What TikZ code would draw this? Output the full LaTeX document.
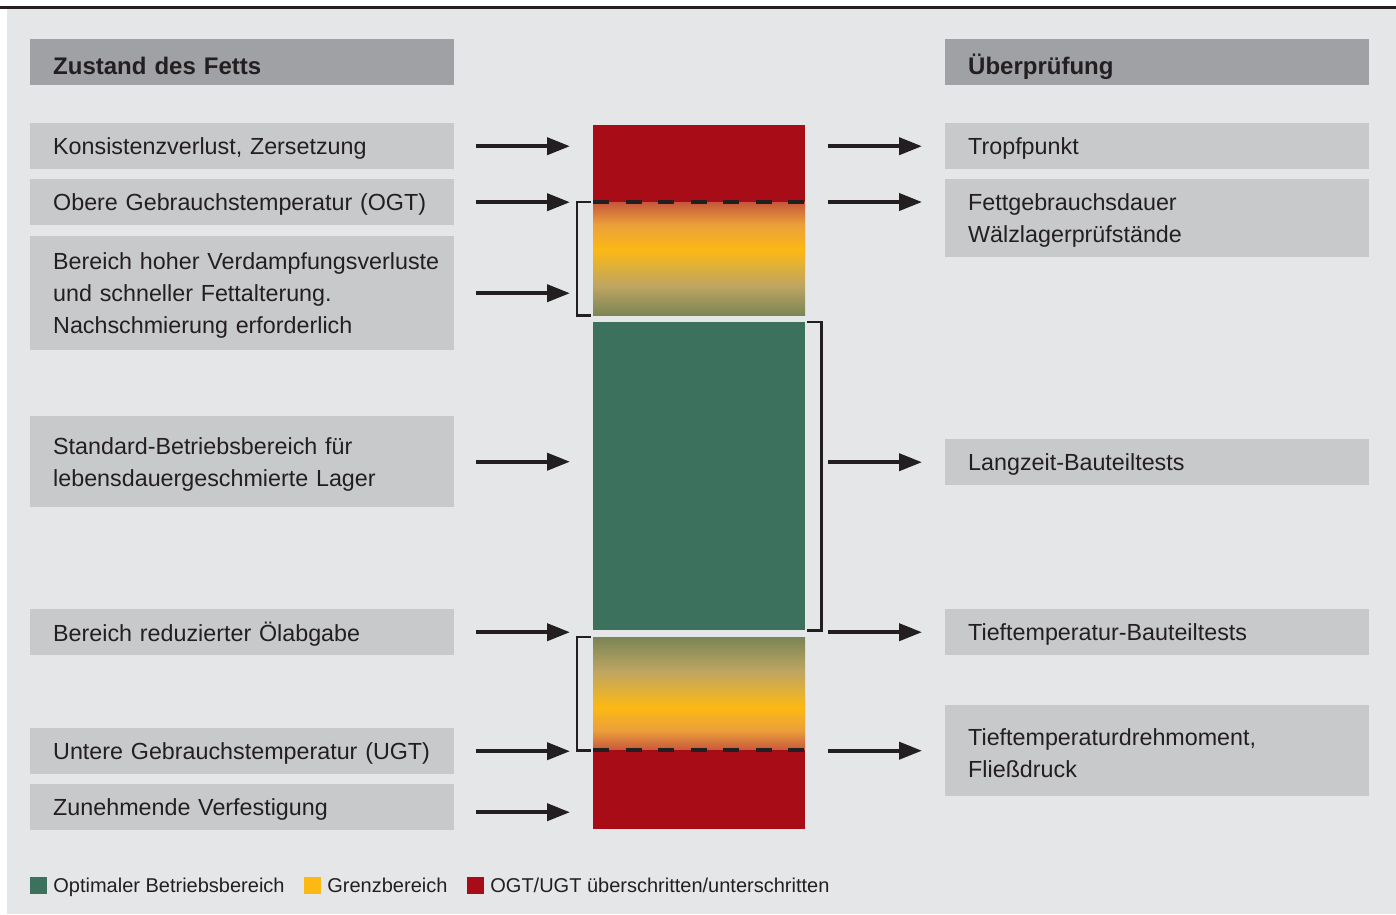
\documentclass[tikz,border=0pt]{standalone}
\usepackage{fontspec}
\setmainfont{Liberation Sans}
\usetikzlibrary{arrows.meta,positioning}
\definecolor{PanelGray}{RGB}{229,230,232}
\definecolor{HeadGray}{RGB}{160,161,165}
\definecolor{BoxGray}{RGB}{200,201,203}
\definecolor{InkBlack}{RGB}{35,31,32}
\definecolor{LimitRed}{RGB}{168,12,22}
\definecolor{OptGreen}{RGB}{60,113,93}
\definecolor{LimitAmber}{RGB}{252,185,20}
\definecolor{RustOrange}{RGB}{198,88,60}
\definecolor{WarmOrange}{RGB}{236,160,58}
\definecolor{TanOlive}{RGB}{190,165,98}
\definecolor{DullOlive}{RGB}{123,133,85}
% transition bands between the limit zones and the optimal zone
\pgfdeclareverticalshading{hotband}{100bp}{color(0bp)=(DullOlive); color(25bp)=(DullOlive);
  color(38bp)=(TanOlive); color(54bp)=(LimitAmber); color(65bp)=(WarmOrange);
  color(75bp)=(RustOrange); color(100bp)=(RustOrange)}
\pgfdeclareverticalshading{coldband}{100bp}{color(0bp)=(RustOrange); color(25bp)=(RustOrange);
  color(34bp)=(WarmOrange); color(44bp)=(LimitAmber); color(60bp)=(TanOlive);
  color(75bp)=(DullOlive); color(100bp)=(DullOlive)}
\tikzset{
  infobox/.style={fill=BoxGray,anchor=north west,text width=424pt,minimum height=46pt,
    inner xsep=0pt,inner ysep=0pt,align=left,text=InkBlack,
    execute at begin node={\leftskip=23pt},execute at end node={\par\kern-5pt},
    font=\fontsize{23.3}{32}\selectfont},
  headbox/.style={infobox,fill=HeadGray,execute at end node={},text height=24pt,text depth=0pt,
    font=\fontsize{24}{32}\selectfont\bfseries},
  band/.style={anchor=north west,minimum width=212pt,inner sep=0pt},
  arrow/.style={-{Triangle[length=23pt,width=17pt]},line width=4pt,InkBlack},
  bracket/.style={line width=2.5pt,InkBlack},
  limitline/.style={line width=4pt,dash pattern=on 16pt off 16.5pt,InkBlack},
  swatch/.style={minimum size=17pt,inner sep=0pt},
  legendtext/.style={inner sep=0pt,text depth=0pt,text=InkBlack,font=\fontsize{20}{24}\selectfont}
}

\begin{document}
\begin{tikzpicture}[x=1pt,y=-1pt]
  \useasboundingbox (0,0) rectangle (1396,914);
  \fill[PanelGray] (7,9) rectangle (1396,914);
  \draw[line width=2.5pt,InkBlack] (0,7.5) -- (1396,7.5);

  % left column
  \node[headbox] (zustand) at (30,39) {Zustand des Fetts};
  \node[infobox] (kons) at (30,123) {Konsistenzverlust, Zersetzung};
  \node[infobox] (ogt) at (30,179) {Obere Gebrauchstemperatur (OGT)};
  \node[infobox,minimum height=114pt] (verdampf) at (30,236)
    {Bereich hoher Verdampfungsverluste\\und schneller Fettalterung.\\Nachschmierung erforderlich};
  \node[infobox,minimum height=91pt] (standard) at (30,416)
    {Standard-Betriebsbereich für\\lebensdauergeschmierte Lager};
  \node[infobox] (oelabgabe) at (30,609) {Bereich reduzierter Ölabgabe};
  \node[infobox] (ugt) at (30,728) {Untere Gebrauchstemperatur (UGT)};
  \node[infobox] (verfest) at (30,784) {Zunehmende Verfestigung};

  % right column
  \node[headbox] (pruefung) at (945,39) {Überprüfung};
  \node[infobox] (tropf) at (945,123) {Tropfpunkt};
  \node[infobox,minimum height=78pt] (fettdauer) at (945,179)
    {Fettgebrauchsdauer\\Wälzlagerprüfstände};
  \node[infobox] (langzeit) at (945,439) {Langzeit-Bauteiltests};
  \node[infobox] (tieftemp) at (945,609) {Tieftemperatur-Bauteiltests};
  \node[infobox,minimum height=91pt] (drehmoment) at (945,705)
    {Tieftemperaturdrehmoment,\\Fließdruck};

  % temperature bar
  \node[band,fill=LimitRed,minimum height=77pt] (redtop) at (593,125) {};
  \node[band,shade,shading=hotband,minimum height=113pt] (hot) at (593,202) {};
  \node[band,fill=OptGreen,minimum height=308pt] (optimal) at (593,322) {};
  \node[band,shade,shading=coldband,minimum height=113pt] (cold) at (593,637) {};
  \node[band,fill=LimitRed,minimum height=79pt] (redbot) at (593,750) {};
  \draw[limitline] (hot.north west) -- (hot.north east);
  \draw[limitline] (redbot.north west) -- (redbot.north east);

  \draw[bracket] ([xshift=-2pt]hot.north west) -- ++(-14,0) |- ([xshift=-2pt]hot.south west);
  \draw[bracket] ([xshift=-2pt]cold.north west) -- ++(-14,0) |- ([xshift=-2pt]cold.south west);
  \draw[bracket] ([xshift=2pt]optimal.north east) -- ++(14,0) |- ([xshift=2pt]optimal.south east);

  % arrows
  \coordinate (lin) at (570,0);
  \coordinate (rout) at (828,0);
  \foreach \nd in {kons,ogt,verdampf,standard,oelabgabe,ugt}
    \draw[arrow] ([xshift=22pt]\nd.east) -- (\nd.east -| lin);
  \draw[arrow] ([xshift=22pt,yshift=-5pt]verfest.east) -- ([yshift=-5pt]verfest.east -| lin);
  \foreach \nd in {tropf,langzeit,tieftemp,drehmoment}
    \draw[arrow] (\nd.west -| rout) -- ([xshift=-23pt]\nd.west);
  \draw[arrow] (hot.north -| rout) -- ([xshift=-23pt]fettdauer.west |- hot.north);

  % legend
  \node[swatch,fill=OptGreen] (swopt) at (38.5,885.5) {};
  \node[legendtext,right=6pt of swopt] (lgopt) {Optimaler Betriebsbereich};
  \node[swatch,fill=LimitAmber] (swgrenz) at (312.5,885.5) {};
  \node[legendtext,right=6pt of swgrenz] (lggrenz) {Grenzbereich};
  \node[swatch,fill=LimitRed] (swlimit) at (475.5,885.5) {};
  \node[legendtext,right=6pt of swlimit] (lglimit) {OGT/UGT überschritten/unterschritten};
\end{tikzpicture}
\end{document}
